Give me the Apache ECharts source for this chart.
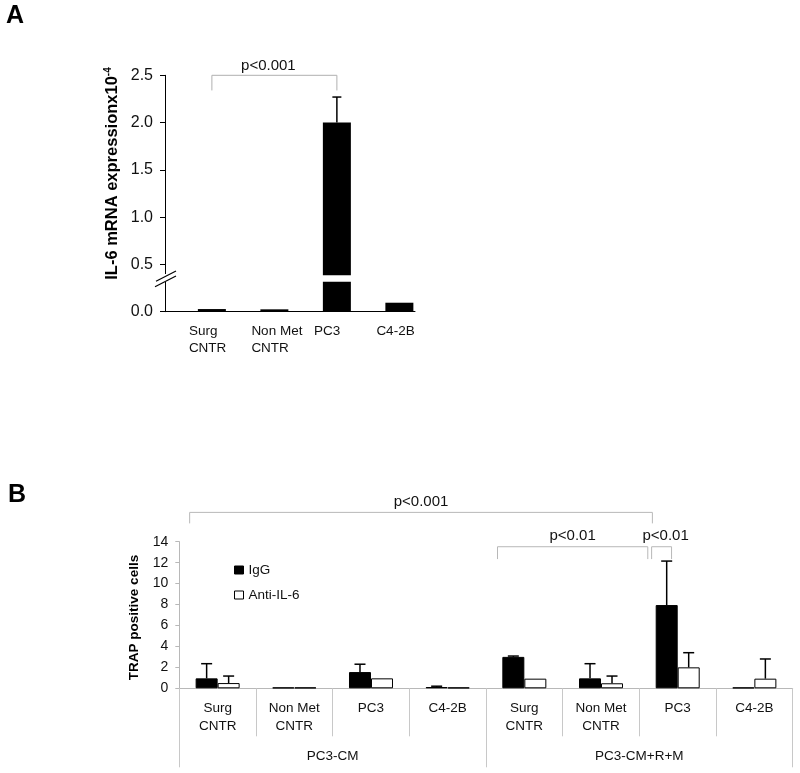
<!DOCTYPE html>
<html><head><meta charset="utf-8">
<script src="https://cdn.jsdelivr.net/npm/echarts@6/dist/echarts.min.js"></script>
<style>html,body{margin:0;padding:0;background:#fff}#c{width:800px;height:773px}</style>
</head><body><div id="c"></div>
<script>
const FONT = 'Liberation Sans, Arial, Helvetica, sans-serif';

// ---------- Panel A data ----------
const catsA = ['Surg\nCNTR', 'Non Met\nCNTR', 'PC3', 'C4-2B'];
const meanA = [0.028, 0.025, 2.0, 0.095];
const sdA = [0, 0, 0.27, 0];
const breakA = { cat: 2, low: 0.317, high: 0.385 };
const bracketA = { label: 'p<0.001', from: 0, to: 2, top: 2.5, leg: 2.34 };

// ---------- Panel B data ----------
const catsB = ['Surg\nCNTR', 'Non Met\nCNTR', 'PC3', 'C4-2B', 'Surg\nCNTR', 'Non Met\nCNTR', 'PC3', 'C4-2B'];
const groupsB = ['PC3-CM', 'PC3-CM+R+M'];
const igG = [0.95, 0.08, 1.55, 0.12, 3.0, 0.95, 7.95, 0.08];
const igGsd = [1.4, 0, 0.75, 0.08, 0.08, 1.4, 4.2, 0];
const anti = [0.5, 0.08, 0.95, 0.08, 0.92, 0.48, 2.0, 0.92];
const antiSd = [0.67, 0, 0, 0, 0, 0.69, 1.4, 1.88];
const bracketsB = [
  { label: 'p<0.001', from: [0, -0.365], to: [6, -0.33], top: 16.8, leg: 15.75, dx: 0 },
  { label: 'p<0.01', from: [4, -0.35], to: [6, -0.39], top: 13.52, leg: 12.34, dx: 0 },
  { label: 'p<0.01', from: [6, -0.34], to: [6, -0.08], top: 13.52, leg: 12.34, dx: 4 }
];

const chart = echarts.init(document.getElementById('c'), null, { renderer: 'canvas' });

function errRender(offset, cap) {
  return function (params, api) {
    const x = api.value(0), m = api.value(1), s = api.value(2);
    if (!s) return null;
    const p0 = api.coord([x, m]);
    const p1 = api.coord([x, m + s]);
    const cx = p0[0] + offset;
    const st = { stroke: '#000', lineWidth: 1.5 };
    return {
      type: 'group', children: [
        { type: 'line', shape: { x1: cx, y1: p0[1], x2: cx, y2: p1[1] }, style: st },
        { type: 'line', shape: { x1: cx - cap / 2, y1: p1[1], x2: cx + cap / 2, y2: p1[1] }, style: st }
      ]
    };
  };
}

function bracketShape(x1, x2, yTop, yLeg, label, dx, lift, color) {
  return {
    type: 'group', children: [
      { type: 'polyline', shape: { points: [[x1, yLeg], [x1, yTop], [x2, yTop], [x2, yLeg]] },
        style: { stroke: color, lineWidth: 1, fill: null } },
      { type: 'text', style: { text: label, x: (x1 + x2) / 2 + dx, y: yTop - lift, align: 'center',
        verticalAlign: 'middle', fontSize: 15, fontFamily: FONT, fill: '#111' } }
    ]
  };
}

const option = {
  animation: false,
  backgroundColor: '#fff',
  textStyle: { fontFamily: FONT },
  grid: [
    { left: 165, top: 75.3, width: 250, height: 236.4, outerBoundsMode: 'none', containLabel: false },
    { left: 179.3, top: 541.7, width: 613.4, height: 146.6, outerBoundsMode: 'none', containLabel: false }
  ],
  legend: {
    orient: 'vertical', left: 234, top: 563, padding: 0, itemWidth: 9, itemHeight: 8, itemGap: 11,
    icon: 'rect', selectedMode: false,
    textStyle: { fontSize: 13.5, color: '#111', fontFamily: FONT },
    data: [
      { name: 'IgG', itemStyle: { color: '#000', borderColor: '#000', borderWidth: 1 } },
      { name: 'Anti-IL-6', itemStyle: { color: '#fff', borderColor: '#000', borderWidth: 1 } }
    ]
  },
  xAxis: [
    {
      type: 'value', gridIndex: 0, min: -0.75, max: 3.25,
      axisLine: { show: true, onZero: false, lineStyle: { color: '#000', width: 1 } },
      axisTick: { show: false }, splitLine: { show: false },
      axisLabel: {
        customValues: [0, 1, 2, 3], margin: 11, color: '#111',
        formatter: function (v) {
          const t = catsA[Math.round(v)];
          if (t == null) return '';
          return t.split('\n').map(s => '{l|' + s + '}').join('\n');
        },
        rich: { l: { width: 46, align: 'left', fontSize: 13.5, lineHeight: 17, fontFamily: FONT, color: '#111' } }
      }
    },
    {
      type: 'category', gridIndex: 1, data: catsB, position: 'bottom',
      axisLine: { show: true, onZero: false, lineStyle: { color: '#b8b8b8', width: 1 } },
      axisTick: { show: true, interval: 0, length: 48, lineStyle: { color: '#c8c8c8' } },
      axisLabel: { interval: 0, margin: 11, fontSize: 13.5, lineHeight: 18, color: '#111', fontFamily: FONT },
      splitLine: { show: false }
    },
    {
      type: 'category', gridIndex: 1, data: groupsB, position: 'bottom',
      axisLine: { show: false, onZero: false },
      axisTick: { show: true, interval: 0, length: 79, lineStyle: { color: '#c8c8c8' } },
      axisLabel: { interval: 0, margin: 60, fontSize: 13.5, lineHeight: 16, color: '#111', fontFamily: FONT },
      splitLine: { show: false }
    }
  ],
  yAxis: [
    {
      type: 'value', gridIndex: 0, min: 0, max: 2.5, interval: 0.5,
      axisLine: { show: true, onZero: false, lineStyle: { color: '#000', width: 1 } },
      axisTick: { show: true, length: 5, lineStyle: { color: '#000' } },
      splitLine: { show: false },
      axisLabel: { margin: 12, fontSize: 16, color: '#111', fontFamily: FONT, formatter: v => v.toFixed(1) },
      name: '{t|IL-6 mRNA expressionx10}{s|-4}',
      nameLocation: 'middle', nameGap: 44, nameRotate: 90,
      nameTextStyle: {
        padding: [0, 0, 0, 40],
        rich: {
          t: { fontSize: 16.5, fontWeight: 'bold', color: '#000', fontFamily: FONT, lineHeight: 18 },
          s: { fontSize: 10, fontWeight: 'bold', color: '#000', fontFamily: FONT, verticalAlign: 'top', lineHeight: 18 }
        }
      }
    },
    {
      type: 'value', gridIndex: 1, min: 0, max: 14, interval: 2,
      axisLine: { show: true, onZero: false, lineStyle: { color: '#b8b8b8', width: 1 } },
      axisTick: { show: true, length: 4, lineStyle: { color: '#b8b8b8' } },
      splitLine: { show: false },
      axisLabel: { margin: 11, fontSize: 14, color: '#111', fontFamily: FONT },
      name: 'TRAP positive cells', nameLocation: 'middle', nameGap: 38, nameRotate: 90,
      nameTextStyle: { fontSize: 13.5, fontWeight: 'bold', color: '#000', fontFamily: FONT, padding: [0, 5, 0, 0] }
    }
  ],
  graphic: [
    { type: 'text', left: 6, top: 4, style: { text: 'A', font: 'bold 25px ' + FONT, fill: '#000' } },
    { type: 'text', left: 8, top: 483, style: { text: 'B', font: 'bold 25px ' + FONT, fill: '#000' } },
    { type: 'rect', shape: { x: 163, y: 274, width: 4, height: 8 }, style: { fill: '#fff' }, z: 50 },
    { type: 'line', shape: { x1: 155, y1: 286.7, x2: 176, y2: 276 }, style: { stroke: '#000', lineWidth: 1.2 }, z: 51 },
    { type: 'line', shape: { x1: 156, y1: 281.2, x2: 176, y2: 271 }, style: { stroke: '#000', lineWidth: 1.2 }, z: 51 }
  ],
  series: [
    // Panel A
    {
      name: 'IL-6', type: 'bar', xAxisIndex: 0, yAxisIndex: 0, barWidth: 28,
      itemStyle: { color: '#000' },
      data: meanA.map((v, i) => [i, v])
    },
    {
      type: 'custom', xAxisIndex: 0, yAxisIndex: 0, z: 4, silent: true,
      data: [[breakA.cat, breakA.low, breakA.high]],
      encode: { x: 0, y: 1 },
      renderItem: function (params, api) {
        const a = api.coord([api.value(0), api.value(1)]);
        const b = api.coord([api.value(0), api.value(2)]);
        return { type: 'rect', shape: { x: a[0] - 16, y: b[1], width: 32, height: a[1] - b[1] }, style: { fill: '#fff' } };
      }
    },
    {
      type: 'custom', xAxisIndex: 0, yAxisIndex: 0, z: 5, silent: true,
      data: meanA.map((v, i) => [i, v, sdA[i]]),
      encode: { x: 0, y: 1 },
      renderItem: errRender(0, 9)
    },
    {
      type: 'custom', xAxisIndex: 0, yAxisIndex: 0, z: 5, silent: true,
      data: [[bracketA.from, bracketA.top]],
      encode: { x: 0, y: 1 },
      renderItem: function (params, api) {
        const p1 = api.coord([bracketA.from, bracketA.top]);
        const p2 = api.coord([bracketA.to, bracketA.top]);
        const pl = api.coord([bracketA.from, bracketA.leg]);
        return bracketShape(p1[0], p2[0], p1[1], pl[1], bracketA.label, -6, 9, '#b0b0b0');
      }
    },
    // Panel B
    {
      name: 'IgG', type: 'bar', xAxisIndex: 1, yAxisIndex: 1, barWidth: 22, barGap: '0%',
      itemStyle: { color: '#000', borderColor: '#000', borderWidth: 1 },
      data: igG
    },
    {
      name: 'Anti-IL-6', type: 'bar', xAxisIndex: 1, yAxisIndex: 1, barWidth: 22, barGap: '0%',
      itemStyle: { color: '#fff', borderColor: '#000', borderWidth: 1 },
      data: anti
    },
    {
      type: 'custom', xAxisIndex: 1, yAxisIndex: 1, z: 5, silent: true,
      data: igG.map((v, i) => [i, v, igGsd[i]]),
      encode: { x: 0, y: 1 },
      renderItem: errRender(-11, 11)
    },
    {
      type: 'custom', xAxisIndex: 1, yAxisIndex: 1, z: 5, silent: true,
      data: anti.map((v, i) => [i, v, antiSd[i]]),
      encode: { x: 0, y: 1 },
      renderItem: errRender(11, 11)
    },
    {
      type: 'custom', xAxisIndex: 1, yAxisIndex: 1, z: 5, silent: true,
      data: bracketsB.map((b, i) => [b.from[0], b.top]),
      encode: { x: 0, y: 1 },
      renderItem: function (params, api) {
        const b = bracketsB[params.dataIndex];
        const bw = api.size([1, 0])[0];
        const a = api.coord([b.from[0], b.top]);
        const c = api.coord([b.to[0], b.top]);
        const l = api.coord([b.from[0], b.leg]);
        const x1 = a[0] + b.from[1] * bw;
        const x2 = c[0] + b.to[1] * bw;
        return bracketShape(x1, x2, a[1], l[1], b.label, b.dx, 11, '#b8b8b8');
      }
    }
  ]
};
chart.setOption(option);
</script>
</body></html>
